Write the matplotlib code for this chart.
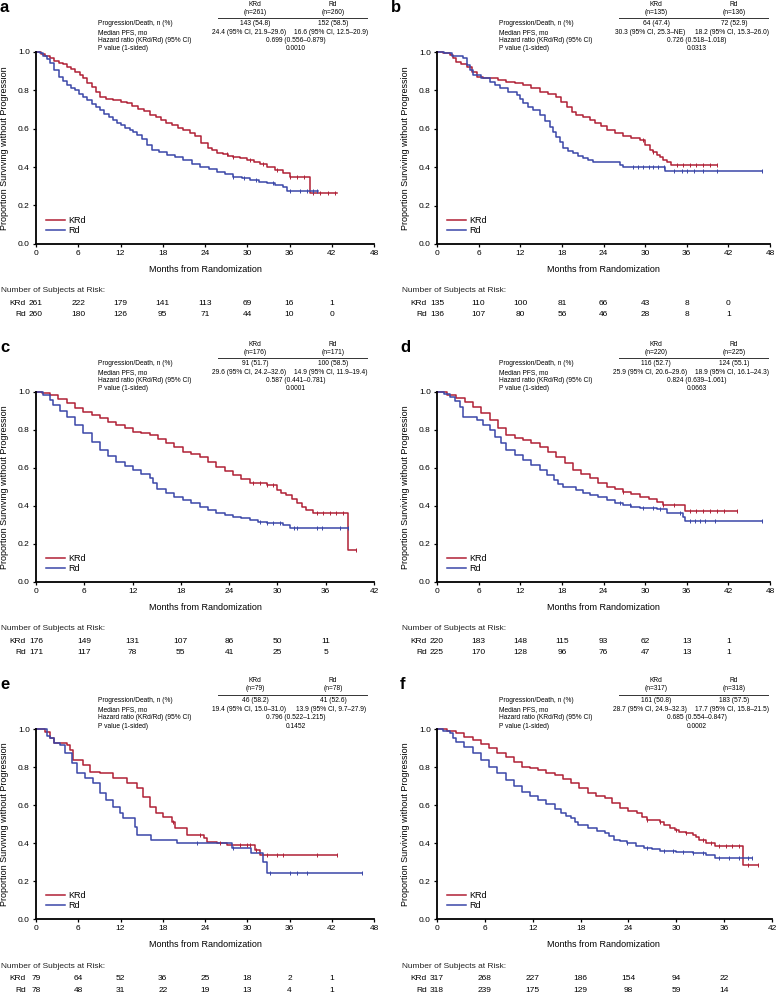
import numpy as np
import matplotlib
matplotlib.use('Agg')
import matplotlib.pyplot as plt
from matplotlib.lines import Line2D

plt.rcParams['font.family'] = ['Liberation Sans', 'DejaVu Sans']

W, H = 779, 994
RED = '#B02036'
BLUE = '#3A47A8'

# ---------------- data ----------------
# a
a_krd_t = [0, 0.7, 1.3, 2.0, 2.6, 3.2, 3.8, 4.4, 5.0, 5.6, 6.2, 6.7, 7.3, 7.9, 8.5, 9.1, 10.0, 11.0, 12.0, 12.9,
           13.7, 14.5, 15.3, 16.2, 17.0, 17.8, 18.5, 19.3, 20.1, 20.9, 21.8, 22.6, 23.4, 24.4, 25.0, 25.7, 26.5,
           27.2, 28.0, 29.0, 29.9, 30.9, 31.8, 32.8, 33.9, 35.1, 36.1, 38.9, 42.8]
a_krd_s = [1, 0.99, 0.98, 0.967, 0.955, 0.945, 0.935, 0.923, 0.91, 0.895, 0.88, 0.863, 0.84, 0.815, 0.79, 0.767,
           0.757, 0.748, 0.74, 0.732, 0.72, 0.705, 0.69, 0.671, 0.66, 0.645, 0.632, 0.62, 0.605, 0.593, 0.578, 0.56,
           0.525, 0.50, 0.49, 0.475, 0.467, 0.46, 0.454, 0.445, 0.437, 0.428, 0.415, 0.40, 0.383, 0.367, 0.35,
           0.266, 0.266]
a_rd_t = [0, 0.5, 1.0, 1.5, 2.0, 2.6, 3.2, 3.8, 4.4, 5.0, 5.5, 6.1, 6.7, 7.3, 8.0, 8.5, 9.1, 9.7, 10.3, 10.9, 11.5,
          12.1, 12.7, 13.3, 13.8, 14.4, 15.0, 15.8, 16.5, 17.5, 18.6, 19.7, 20.9, 22.1, 23.3, 24.5, 25.7, 26.8, 28.0,
          29.2, 30.4, 31.6, 32.8, 34.0, 35.1, 35.6, 40.1]
a_rd_s = [1, 0.993, 0.98, 0.962, 0.941, 0.905, 0.871, 0.848, 0.828, 0.813, 0.80, 0.783, 0.767, 0.748, 0.73, 0.713,
          0.697, 0.678, 0.66, 0.644, 0.628, 0.617, 0.605, 0.595, 0.584, 0.565, 0.545, 0.515, 0.49, 0.476, 0.463,
          0.45, 0.437, 0.418, 0.40, 0.388, 0.376, 0.362, 0.35, 0.341, 0.332, 0.323, 0.315, 0.306, 0.297, 0.277, 0.277]
a_krd_cens = [27.1, 28.0, 30.4, 32.3, 34.2, 36.1, 37.0, 38.0, 39.4, 40.3, 41.5, 42.5]
a_rd_cens = [28.0, 29.5, 31.3, 33.7, 36.1, 37.5, 38.5, 39.4, 39.9]

# b
b_krd_t = [0, 0.8, 1.9, 2.3, 2.8, 3.5, 4.3, 5.0, 5.7, 6.6, 7.6, 8.8, 10.0, 11.2, 12.4, 13.6, 14.8, 16.0, 17.2, 17.9,
           18.7, 19.4, 20.1, 21.0, 22.0, 22.8, 23.6, 24.5, 25.6, 26.8, 28.0, 29.3, 30.0, 30.7, 31.2, 31.7, 32.2, 32.6,
           33.2, 33.8, 40.3]
b_krd_s = [1, 0.993, 0.984, 0.968, 0.95, 0.937, 0.923, 0.898, 0.871, 0.867, 0.863, 0.853, 0.845, 0.837, 0.828, 0.81,
           0.793, 0.78, 0.767, 0.74, 0.715, 0.69, 0.672, 0.66, 0.646, 0.628, 0.612, 0.594, 0.576, 0.56, 0.55, 0.542,
           0.515, 0.49, 0.477, 0.464, 0.452, 0.44, 0.425, 0.411, 0.411]
b_rd_t = [0, 1.0, 2.2, 3.8, 4.3, 4.8, 5.2, 6.4, 7.6, 8.3, 9.1, 10.3, 11.5, 12.0, 12.4, 13.1, 13.9, 14.8, 15.5, 16.3,
          16.7, 17.2, 17.7, 18.2, 18.9, 19.6, 20.3, 21.1, 21.8, 22.5, 26.4, 26.8, 32.9, 46.8]
b_rd_s = [1, 0.993, 0.978, 0.967, 0.93, 0.905, 0.88, 0.862, 0.845, 0.828, 0.81, 0.793, 0.776, 0.755, 0.733, 0.715,
          0.698, 0.672, 0.64, 0.611, 0.585, 0.559, 0.53, 0.50, 0.486, 0.472, 0.459, 0.446, 0.437, 0.429, 0.411,
          0.403, 0.382, 0.382]
b_krd_cens = [29.7, 31.2, 34.6, 35.5, 36.5, 37.4, 38.4, 39.3, 40.3]
b_rd_cens = [28.3, 29.0, 29.7, 30.5, 31.2, 31.9, 32.7, 34.1, 35.3, 36.1, 37.0, 38.4, 40.3, 46.8]

# c
c_krd_t = [0, 0.8, 1.7, 2.7, 3.8, 4.8, 5.9, 7.0, 8.0, 9.0, 10.0, 11.0, 12.1, 13.1, 14.2, 15.2, 16.2, 17.2, 18.3,
           19.3, 20.4, 21.4, 22.4, 23.5, 24.5, 25.5, 26.6, 28.7, 29.9, 30.5, 31.1, 31.8, 32.4, 33.0, 33.6, 34.4,
           38.8, 39.8]
c_krd_s = [1, 0.995, 0.984, 0.962, 0.94, 0.918, 0.896, 0.879, 0.862, 0.844, 0.826, 0.808, 0.791, 0.782, 0.774,
           0.752, 0.73, 0.708, 0.686, 0.673, 0.66, 0.633, 0.607, 0.585, 0.563, 0.541, 0.519, 0.51, 0.484, 0.471,
           0.458, 0.436, 0.414, 0.396, 0.379, 0.361, 0.168, 0.168]
c_rd_t = [0, 0.9, 1.7, 2.1, 3.0, 3.8, 4.8, 5.9, 7.0, 8.0, 9.0, 10.0, 11.0, 12.1, 13.1, 14.2, 14.6, 15.0, 16.2, 17.2,
          18.3, 19.3, 20.4, 21.4, 22.4, 23.5, 24.5, 25.5, 26.6, 27.6, 28.7, 30.7, 31.6, 38.8]
c_rd_s = [1, 0.985, 0.958, 0.932, 0.90, 0.87, 0.826, 0.782, 0.738, 0.695, 0.664, 0.633, 0.611, 0.589, 0.567, 0.546,
          0.52, 0.49, 0.467, 0.45, 0.432, 0.414, 0.396, 0.378, 0.361, 0.352, 0.344, 0.335, 0.326, 0.318, 0.312,
          0.30, 0.283, 0.283]
c_krd_cens = [27.0, 27.8, 28.7, 29.5, 34.9, 35.7, 36.5, 37.3, 38.2, 39.8]
c_rd_cens = [27.8, 28.7, 29.5, 30.3, 32.0, 32.4, 34.9, 35.5, 37.8, 38.8]

# d
d_krd_t = [0, 1.4, 2.8, 4.0, 5.2, 6.4, 7.6, 8.8, 10.0, 11.2, 12.4, 13.6, 14.8, 16.0, 17.2, 18.4, 19.6, 20.8, 22.0,
           23.2, 24.5, 25.6, 26.8, 28.0, 29.3, 30.5, 31.7, 32.6, 35.7, 43.2]
d_krd_s = [1, 0.985, 0.967, 0.945, 0.923, 0.888, 0.853, 0.813, 0.774, 0.76, 0.747, 0.73, 0.712, 0.686, 0.66, 0.625,
           0.589, 0.567, 0.545, 0.522, 0.50, 0.488, 0.475, 0.462, 0.449, 0.436, 0.423, 0.405, 0.375, 0.375]
d_rd_t = [0, 1.0, 1.9, 2.6, 3.3, 3.8, 5.7, 6.6, 7.6, 8.4, 9.2, 10.0, 11.2, 12.4, 13.6, 14.8, 15.8, 16.8, 17.5, 18.2,
          20.1, 21.0, 22.0, 23.2, 24.5, 25.6, 26.8, 28.0, 29.3, 31.7, 33.1, 35.5, 35.7, 46.8]
d_rd_s = [1, 0.99, 0.975, 0.95, 0.923, 0.87, 0.853, 0.827, 0.80, 0.765, 0.73, 0.695, 0.668, 0.642, 0.615, 0.589,
          0.563, 0.537, 0.518, 0.50, 0.484, 0.471, 0.458, 0.445, 0.432, 0.418, 0.405, 0.396, 0.388, 0.383, 0.361,
          0.344, 0.323, 0.323]
d_krd_cens = [26.8, 32.6, 34.1, 36.5, 37.4, 38.4, 39.3, 40.3, 41.3, 43.2]
d_rd_cens = [26.4, 27.8, 29.7, 31.2, 32.1, 35.0, 36.5, 37.2, 37.9, 38.6, 40.1, 46.8]

# e
e_krd_t = [0, 1.3, 2.0, 2.5, 4.4, 4.8, 5.3, 6.7, 7.7, 9.1, 11.0, 12.9, 14.3, 15.2, 16.2, 17.1, 18.1, 19.3, 19.7, 21.4,
           23.8, 24.3, 25.7, 27.1, 31.1, 31.8, 42.8]
e_krd_s = [1, 0.986, 0.951, 0.925, 0.916, 0.889, 0.837, 0.811, 0.775, 0.767, 0.74, 0.714, 0.688, 0.644, 0.591, 0.556,
           0.539, 0.512, 0.477, 0.442, 0.425, 0.407, 0.398, 0.389, 0.363, 0.335, 0.335]
e_rd_t = [0, 1.5, 2.0, 2.5, 3.4, 4.1, 5.1, 5.8, 7.0, 8.1, 9.1, 10.0, 11.0, 11.9, 12.4, 14.1, 14.3, 16.4, 20.0, 27.8,
          30.6, 32.3, 32.8, 46.3]
e_rd_s = [1, 0.965, 0.951, 0.925, 0.916, 0.872, 0.819, 0.767, 0.74, 0.714, 0.661, 0.626, 0.591, 0.556, 0.529, 0.486,
          0.442, 0.416, 0.398, 0.372, 0.346, 0.302, 0.244, 0.244]
e_krd_cens = [19.5, 23.3, 26.1, 28.9, 29.9, 30.4, 31.3, 32.8, 34.2, 35.1, 39.9, 42.7]
e_rd_cens = [22.8, 28.0, 33.2, 36.1, 37.0, 38.5, 46.3]

# f
f_krd_t = [0, 1.2, 2.4, 3.4, 4.5, 5.5, 6.5, 7.5, 8.6, 9.6, 10.7, 11.7, 12.7, 13.7, 14.8, 15.8, 16.8, 17.8, 18.9,
           19.9, 21.0, 22.0, 23.0, 24.0, 25.1, 25.7, 26.3, 27.9, 28.5, 29.2, 29.8, 30.4, 31.2, 32.1, 32.5, 32.9,
           33.7, 34.9, 38.4, 40.3]
f_krd_s = [1, 0.99, 0.977, 0.96, 0.942, 0.92, 0.898, 0.876, 0.854, 0.828, 0.802, 0.793, 0.784, 0.771, 0.758, 0.736,
           0.714, 0.688, 0.661, 0.648, 0.635, 0.61, 0.585, 0.57, 0.556, 0.538, 0.521, 0.512, 0.495, 0.477, 0.468,
           0.46, 0.451, 0.442, 0.429, 0.416, 0.40, 0.386, 0.284, 0.284]
f_rd_t = [0, 0.8, 1.6, 2.0, 2.4, 3.4, 4.5, 5.5, 6.5, 7.5, 8.6, 9.6, 10.7, 11.7, 12.7, 13.7, 14.8, 15.6, 16.2, 16.8,
          17.3, 17.7, 18.9, 20.0, 21.0, 21.6, 22.2, 23.0, 23.8, 24.9, 25.9, 26.9, 27.9, 30.0, 32.1, 33.7, 34.9, 39.5]
f_rd_s = [1, 0.99, 0.977, 0.955, 0.933, 0.903, 0.872, 0.837, 0.802, 0.767, 0.732, 0.70, 0.671, 0.648, 0.626, 0.603,
          0.58, 0.556, 0.543, 0.529, 0.512, 0.495, 0.477, 0.465, 0.454, 0.435, 0.416, 0.408, 0.40, 0.386, 0.372,
          0.366, 0.36, 0.354, 0.346, 0.337, 0.319, 0.319]
f_krd_cens = [26.3, 27.9, 30.0, 31.2, 33.3, 34.3, 35.3, 36.2, 37.0, 37.8, 39.0, 40.3]
f_rd_cens = [23.8, 26.3, 28.4, 29.6, 30.8, 32.1, 33.3, 35.3, 36.6, 37.8, 39.0, 39.5]

# numbers at risk
a_risk_krd = [261, 222, 179, 141, 113, 69, 16, 1]
a_risk_rd = [260, 180, 126, 95, 71, 44, 10, 0]
b_risk_krd = [135, 110, 100, 81, 66, 43, 8, 0]
b_risk_rd = [136, 107, 80, 56, 46, 28, 8, 1]
c_risk_krd = [176, 149, 131, 107, 86, 50, 11]
c_risk_rd = [171, 117, 78, 55, 41, 25, 5]
d_risk_krd = [220, 183, 148, 115, 93, 62, 13, 1]
d_risk_rd = [225, 170, 128, 96, 76, 47, 13, 1]
e_risk_krd = [79, 64, 52, 36, 25, 18, 2, 1]
e_risk_rd = [78, 48, 31, 22, 19, 13, 4, 1]
f_risk_krd = [317, 268, 227, 186, 154, 94, 22]
f_risk_rd = [318, 239, 175, 129, 98, 59, 14]

# summary tables
n_krd = [261, 135, 176, 220, 79, 317]
n_rd = [260, 136, 171, 225, 78, 318]
events_krd = ['143 (54.8)', '64 (47.4)', '91 (51.7)', '116 (52.7)', '46 (58.2)', '161 (50.8)']
events_rd = ['152 (58.5)', '72 (52.9)', '100 (58.5)', '124 (55.1)', '41 (52.6)', '183 (57.5)']
median_krd = ['24.4 (95% CI, 21.9–29.6)', '30.3 (95% CI, 25.3–NE)', '29.6 (95% CI, 24.2–32.6)',
              '25.9 (95% CI, 20.6–29.6)', '19.4 (95% CI, 15.0–31.0)', '28.7 (95% CI, 24.9–32.3)']
median_rd = ['16.6 (95% CI, 12.5–20.9)', '18.2 (95% CI, 15.3–26.0)', '14.9 (95% CI, 11.9–19.4)',
             '18.9 (95% CI, 16.1–24.3)', '13.9 (95% CI, 9.7–27.9)', '17.7 (95% CI, 15.8–21.5)']
hazard = ['0.699 (0.556–0.879)', '0.726 (0.518–1.018)', '0.587 (0.441–0.781)',
          '0.824 (0.639–1.061)', '0.796 (0.522–1.215)', '0.685 (0.554–0.847)']
pvalue = ['0.0010', '0.0313', '0.0001', '0.0663', '0.1452', '0.0002']
row_labels = ['Progression/Death, n (%)', 'Median PFS, mo', 'Hazard ratio (KRd/Rd) (95% CI)', 'P value (1-sided)']

# ---------------- layout (pixels) ----------------
letters = ['a', 'b', 'c', 'd', 'e', 'f']
# left, top, right, bottom, xmax
boxes = [(36, 52, 374, 243.7, 48), (437, 52, 770, 244, 48),
         (36, 392, 374, 582, 42), (437, 392, 770, 582, 48),
         (36, 729, 374, 919, 48), (437, 729, 772, 919, 42)]
letter_x = [0, 391, 0, 400, 0, 400]

panels = [
    (a_krd_t, a_krd_s, a_rd_t, a_rd_s, a_krd_cens, a_rd_cens, a_risk_krd, a_risk_rd),
    (b_krd_t, b_krd_s, b_rd_t, b_rd_s, b_krd_cens, b_rd_cens, b_risk_krd, b_risk_rd),
    (c_krd_t, c_krd_s, c_rd_t, c_rd_s, c_krd_cens, c_rd_cens, c_risk_krd, c_risk_rd),
    (d_krd_t, d_krd_s, d_rd_t, d_rd_s, d_krd_cens, d_rd_cens, d_risk_krd, d_risk_rd),
    (e_krd_t, e_krd_s, e_rd_t, e_rd_s, e_krd_cens, e_rd_cens, e_risk_krd, e_risk_rd),
    (f_krd_t, f_krd_s, f_rd_t, f_rd_s, f_krd_cens, f_rd_cens, f_risk_krd, f_risk_rd),
]


def fx(x):
    return x / W


def fy(y):
    return 1 - y / H


def censor_y(t, s, cens):
    t = np.asarray(t)
    s = np.asarray(s)
    idx = np.searchsorted(t, cens, side='right') - 1
    return s[np.clip(idx, 0, len(s) - 1)]


fig = plt.figure(figsize=(W / 100, H / 100), dpi=100)

for i, (kt, ks, rt, rs, kc, rc, risk_k, risk_r) in enumerate(panels):
    l, t, r, b, xmax = boxes[i]
    left_col = l < 100
    ax = fig.add_axes([fx(l), fy(b), (r - l) / W, (b - t) / H])
    ax.set_xlim(0, xmax)
    ax.set_ylim(0, 1)
    for sp in ['top', 'right']:
        ax.spines[sp].set_visible(False)
    for sp in ['left', 'bottom']:
        ax.spines[sp].set_linewidth(1.3)
    ax.set_xticks(np.arange(0, xmax + 1, 6))
    ax.set_yticks(np.arange(0, 1.01, 0.2))
    ax.set_yticklabels(['%.1f' % v for v in np.arange(0, 1.01, 0.2)])
    ax.tick_params(direction='out', length=2.5, width=0.9, labelsize=6, pad=2)

    ax.step(kt, ks, where='post', color=RED, lw=1.1, clip_on=False, label='KRd')
    ax.step(rt, rs, where='post', color=BLUE, lw=1.1, clip_on=False, label='Rd')
    ax.plot(kc, censor_y(kt, ks, kc), ls='none', marker='|', ms=3, mew=0.7, color=RED)
    ax.plot(rc, censor_y(rt, rs, rc), ls='none', marker='|', ms=3, mew=0.7, color=BLUE)

    ax.legend(loc='lower left', bbox_to_anchor=(0.03, 0.045), frameon=False, fontsize=6.5,
              handlelength=2.1, handletextpad=0.35, labelspacing=0.12, borderaxespad=0,
              borderpad=0)

    # axis titles and panel letter
    xc = 205 if left_col else 603.5
    fig.text(fx(xc), fy(b + 25.7), 'Months from Randomization', fontsize=6.5,
             ha='center', va='center')
    fig.text(fx(l - 31), fy((t + b) / 2), 'Proportion Surviving without Progression',
             fontsize=6.5, rotation=90, ha='center', va='center')
    fig.text(fx(letter_x[i]), fy(t - 40), letters[i], fontsize=12, fontweight='bold',
             ha='left', va='baseline')

    # numbers at risk
    fig.text(fx(l - 35), fy(b + 47), 'Number of Subjects at Risk:', fontsize=6,
             ha='left', va='center', color='#222222')
    trans = ax.get_xaxis_transform()
    for row_y, name, vals in [(b + 59.7, 'KRd', risk_k), (b + 71, 'Rd', risk_r)]:
        yy = 1 - (row_y - t) / (b - t)
        ax.text(-10 / (r - l) * xmax, yy, name, transform=trans, fontsize=6,
                ha='right', va='center', clip_on=False)
        for k, v in enumerate(vals):
            ax.text(k * 6, yy, str(v), transform=trans, fontsize=6, ha='center',
                    va='center', clip_on=False)

    # summary table
    off = 0 if left_col else 401
    fs = 4.8
    col1, col2, mid = 255 + off, 333 + off, 296 + off
    fig.text(fx(col1), fy(t - 48), 'KRd', fontsize=fs, ha='center', va='center')
    fig.text(fx(col2), fy(t - 48), 'Rd', fontsize=fs, ha='center', va='center')
    fig.text(fx(col1), fy(t - 40), '(n=%d)' % n_krd[i], fontsize=fs, ha='center', va='center')
    fig.text(fx(col2), fy(t - 40), '(n=%d)' % n_rd[i], fontsize=fs, ha='center', va='center')
    fig.add_artist(Line2D([fx(218 + off), fx(367 + off)], [fy(t - 34.3)] * 2,
                          color='#333333', lw=0.7))
    rows_y = [t - 28.3, t - 19.8, t - 11.3, t - 3]
    for ry, lab in zip(rows_y, row_labels):
        fig.text(fx(98 + off), fy(ry), lab, fontsize=fs, ha='left', va='center')
    fig.text(fx(col1), fy(rows_y[0]), events_krd[i], fontsize=fs, ha='center', va='center')
    fig.text(fx(col2), fy(rows_y[0]), events_rd[i], fontsize=fs, ha='center', va='center')
    fig.text(fx(col1 - 6), fy(rows_y[1]), median_krd[i], fontsize=fs, ha='center', va='center')
    fig.text(fx(col2 - 2), fy(rows_y[1]), median_rd[i], fontsize=fs, ha='center', va='center')
    fig.text(fx(mid), fy(rows_y[2]), hazard[i], fontsize=fs, ha='center', va='center')
    fig.text(fx(mid), fy(rows_y[3]), pvalue[i], fontsize=fs, ha='center', va='center')

fig.savefig('out.png', dpi=100)
